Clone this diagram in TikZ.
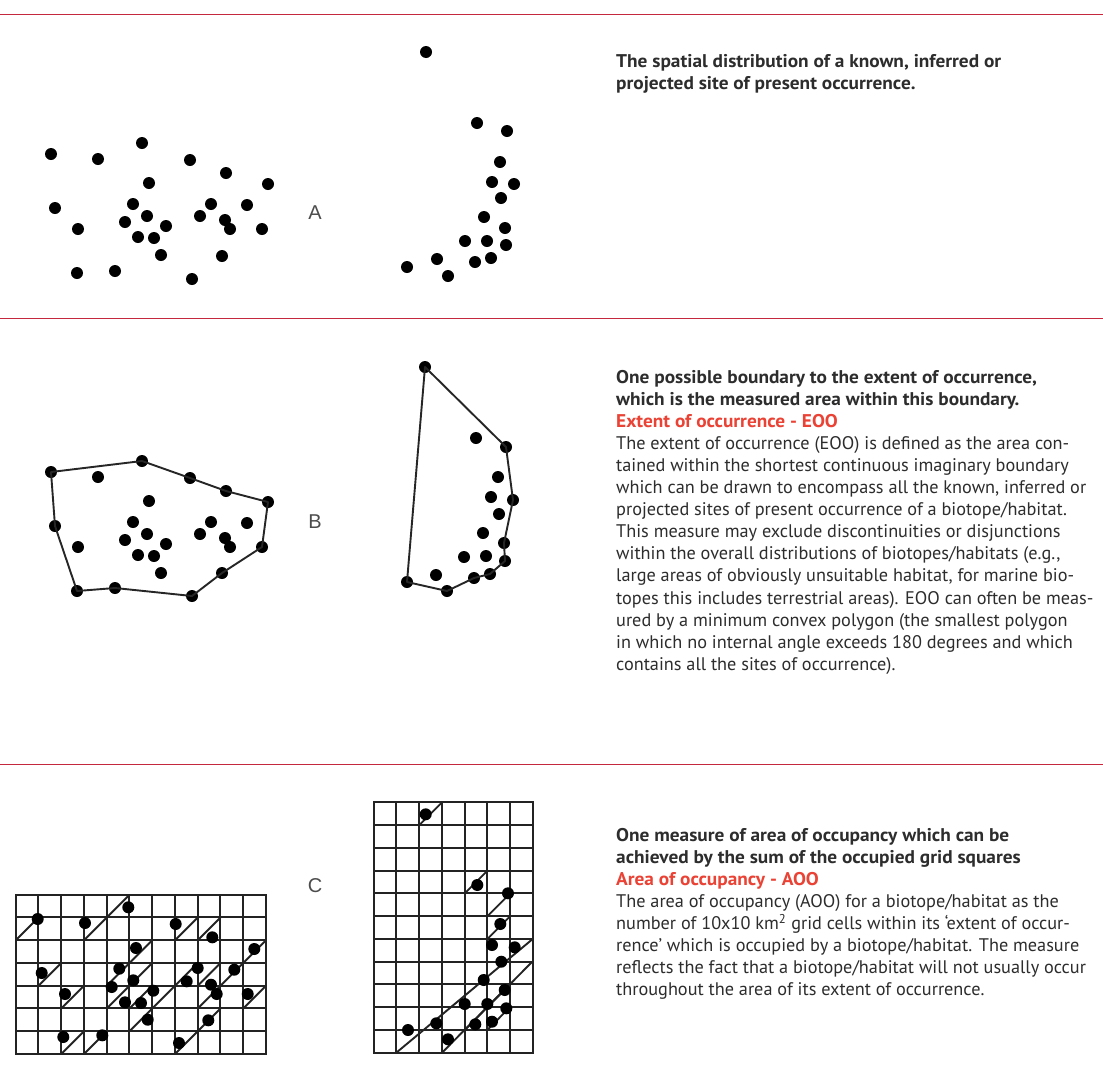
\documentclass[tikz,border=0pt]{standalone}
\usepackage{fontspec}
\setmainfont{PT Sans}
\newfontfamily\headfont{PT Sans}[FakeStretch=1.05]
\newfontfamily\labelfont{Liberation Sans}
\definecolor{divred}{RGB}{196,40,62}
\definecolor{headred}{RGB}{234,66,52}
\definecolor{txtc}{RGB}{45,45,45}
\definecolor{gridc}{RGB}{35,35,35}
\newcommand\mygrid[4]{%
  \foreach \i in {0,...,#3} \draw[gridl] ({#1+\i*22.75},#2) -- ({#1+\i*22.75},{#2+#4*22.75});
  \foreach \j in {0,...,#4} \draw[gridl] (#1,{#2+\j*22.75}) -- ({#1+#3*22.75},{#2+\j*22.75});
}
\begin{document}
\begin{tikzpicture}[x=1pt,y=-1pt,
  dot/.style={circle,fill=black,inner sep=0pt,minimum size=12pt},
  hull/.style={draw=black!85,line width=1.9pt,line join=round},
  gridl/.style={draw=gridc,line width=2pt,line cap=rect},
  diag/.style={draw=gridc,line width=1.9pt},
  divider/.style={draw=divred,line width=1pt},
  lbl/.style={font=\labelfont\fontsize{20}{22}\selectfont,text=black!70,inner sep=0pt},
  txtn/.style={anchor=base west,inner sep=0pt,text=txtc,font=\fontsize{18.25}{20}\selectfont},
  boldn/.style={txtn,font=\headfont\fontsize{18.4}{20}\selectfont\bfseries},
  redn/.style={boldn,text=headred}]
\fill[white] (0,0) rectangle (1103,1082);
\useasboundingbox (0,0) rectangle (1103,1082);
% dividers
\draw[divider] (0,14) -- (1103,14);
\draw[divider] (0,318) -- (1103,318);
\draw[divider] (0,764) -- (1103,764);
% labels
\node[lbl] (labA) at (315,213) {A};
\node[lbl] (labB) at (315,522) {B};
\node[lbl] (labC) at (315,886) {C};
% ===== Panel A =====
\foreach \x/\y [count=\n] in {51/154,98/159,142/143,190/160,226/173,149/183,268/184,55/208,133/204,211/204,247/205,78/229,125/222,147/216,166/226,200/216,225/220,230/229,262/229,138/237,154/238,161/255,222/256,77/273,115/271,192/279}
  \node[dot] (pa\n) at (\x,\y) {};
\foreach \x/\y [count=\n] in {426/52,477/123,507/131,500/162,492/182,514/184,501/198,484/217,505/228,465/241,487/241,506/245,437/259,491/258,475/262,407/267,448/276}
  \node[dot] (qa\n) at (\x,\y) {};
% ===== Panel B =====
\foreach \x/\y [count=\n] in {51/472,98/477,142/461,190/478,226/491,149/501,268/502,55/526,133/522,211/522,247/523,78/547,125/540,147/534,166/544,200/534,225/538,230/547,262/547,138/555,154/556,161/573,222/573,77/591,115/588,192/596}
  \node[dot] (pb\n) at (\x,\y) {};
\draw[hull] (pb1.center) -- (pb3.center) -- (pb4.center) -- (pb5.center) -- (pb7.center) -- (pb19.center) -- (pb23.center) -- (pb26.center) -- (pb25.center) -- (pb24.center) -- (pb8.center) -- cycle;
\foreach \x/\y [count=\n] in {425/367,476/438,506/447,498/477,491/497,513/500,499/514,483/533,504/543,464/557,486/556,505/561,436/575,490/574,474/578,407/582,447/591}
  \node[dot] (qb\n) at (\x,\y) {};
\draw[hull] (qb1.center) -- (qb3.center) -- (qb6.center) -- (qb9.center) -- (qb12.center) -- (qb14.center) -- (qb15.center) -- (qb17.center) -- (qb16.center) -- cycle;
% ===== Panel C =====
\mygrid{15.7}{894.7}{11}{7}
\foreach \c/\r in {0/1,3/1,4/0,7/1,8/1,5/2,10/2,1/3,4/3,5/3,7/3,8/3,9/3,2/4,4/4,5/4,6/4,8/4,10/4,5/5,8/5,2/6,3/6,7/6}
  \draw[diag] ({15.7+\c*22.75},{894.7+(\r+1)*22.75}) -- ++(22.75,-22.75);
\foreach \x/\y [count=\n] in {37.7/919,85/923,128.3/907.3,175.7/924,212.3/937.3,136/948,254.3/949,41.7/973,119.3/968.7,133.3/980.3,111.7/987,125/1002.3,141/1003,153.3/990.7,147.7/1019.7,197.7/968,186.7/981.3,211/984.7,216.7/994,234.3/969.7,247.7/994,208.3/1020.3,179/1043,63.3/1037,102.3/1035.3,65/994}
  \node[dot] (pc\n) at (\x,\y) {};
\mygrid{373.7}{802.4}{7}{11}
\foreach \c/\r in {2/0,4/3,5/4,5/5}
  \draw[diag] ({373.7+\c*22.75},{802.4+(\r+1)*22.75}) -- ++(22.75,-22.75);
\draw[diag] (396.3,1052.7) -- (532.3,939.3);
\draw[diag] (442,1052.7) -- (532.3,961.7);
\draw[diag] (464.7,1030) -- (510,984.3);
\draw[diag] (487.3,1030) -- (510,1007);
\foreach \x/\y [count=\n] in {425.7/814.3,477.3/885,508/893.3,500.3/924,492/945,514.7/947.3,501.3/961.7,483.7/980,504.7/990,464.7/1004,487.3/1004,506.3/1008.3,436.3/1023.3,475.3/1024.3,492/1021.7,408/1030,448/1039.3}
  \node[dot] (qc\n) at (\x,\y) {};
% ===== Texts =====
\node[boldn] (ta1) at (616,67) {The spatial distribution of a known, inferred or};
\node[boldn] (ta2) at (616,89) {projected site of present occurrence.};
\node[boldn] (tb1) at (616,383) {One possible boundary to the extent of occurrence,};
\node[boldn] (tb2) at (616,405.1) {which is the measured area within this boundary.};
\node[redn] (tb3) at (616,427.2) {Extent of occurrence - EOO};
\node[txtn] (tb4) at (616,449.3) {The extent of occurrence (EOO) is defined as the area con-};
\node[txtn] (tb5) at (616,471.4) {tained within the shortest continuous imaginary boundary};
\node[txtn] (tb6) at (616,493.5) {which can be drawn to encompass all the known, inferred or};
\node[txtn] (tb7) at (616,515.6) {projected sites of present occurrence of a biotope/habitat.};
\node[txtn] (tb8) at (616,537.7) {This measure may exclude discontinuities or disjunctions};
\node[txtn] (tb9) at (616,559.8) {within the overall distributions of biotopes/habitats (e.g.,};
\node[txtn] (tb10) at (616,581.9) {large areas of obviously unsuitable habitat, for marine bio-};
\node[txtn] (tb11) at (616,604) {topes this includes terrestrial areas). EOO can often be meas-};
\node[txtn] (tb12) at (616,626.1) {ured by a minimum convex polygon (the smallest polygon};
\node[txtn] (tb13) at (616,648.2) {in which no internal angle exceeds 180 degrees and which};
\node[txtn] (tb14) at (616,670.3) {contains all the sites of occurrence).};
\node[boldn] (tc1) at (616,841) {One measure of area of occupancy which can be};
\node[boldn] (tc2) at (616,863.1) {achieved by the sum of the occupied grid squares};
\node[redn] (tc3) at (616,885.2) {Area of occupancy - AOO};
\node[txtn] (tc4) at (616,907.3) {The area of occupancy (AOO) for a biotope/habitat as the};
\node[txtn] (tc5) at (616,929.4) {number of 10x10 km\textsuperscript{2} grid cells within its ‘extent of occur-};
\node[txtn] (tc6) at (616,951.5) {rence’ which is occupied by a biotope/habitat. The measure};
\node[txtn] (tc7) at (616,973.6) {reflects the fact that a biotope/habitat will not usually occur};
\node[txtn] (tc8) at (616,995.7) {throughout the area of its extent of occurrence.};
\end{tikzpicture}
\end{document}
